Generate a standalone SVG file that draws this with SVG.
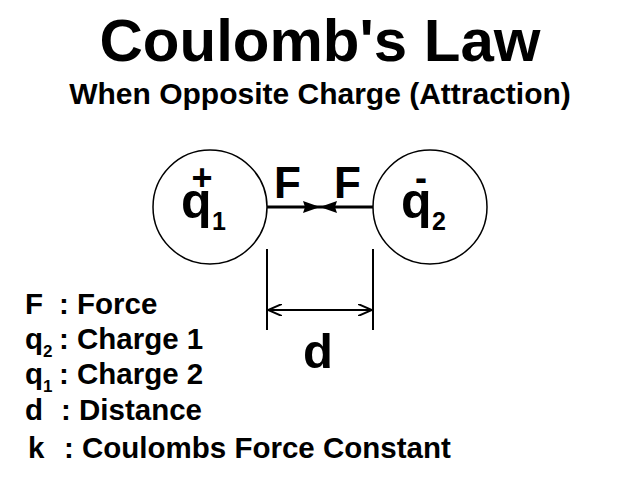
<svg xmlns="http://www.w3.org/2000/svg" width="640" height="480" viewBox="0 0 640 480">
<style>
text{font-family:"Liberation Sans",Arial,sans-serif;font-weight:bold;fill:#000}
.ttl{font-size:60px}
.sub{font-size:30px}
.lg{font-size:29.5px}
.lgs{font-size:17px}
.q{font-size:50px}
.d{font-size:49px}
.qs{font-size:25px}
.sg{font-size:36px}
.f{font-size:44px}
.ch{fill:#fff;stroke:#000;stroke-width:1.5}
.force{stroke:#000;stroke-width:3;fill:none}
.dim{stroke:#000;stroke-width:2;fill:none}
</style>
<defs>
<marker id="fa" viewBox="0 0 17 12" refX="17" refY="6" markerWidth="17" markerHeight="12" markerUnits="userSpaceOnUse" orient="auto">
<path d="M0,0 L17,6 L0,12 L2,6 Z" fill="#000"/>
</marker>
<marker id="oa" viewBox="0 0 14 12" refX="14" refY="6" markerWidth="14" markerHeight="12" markerUnits="userSpaceOnUse" orient="auto">
<path d="M0,0 L14,6 L0,12" fill="none" stroke="#000" stroke-width="2"/>
</marker>
</defs>
<g id="title">
<text class="ttl" x="320" y="61" text-anchor="middle">Coulomb's Law</text>
<text class="sub" x="320" y="104" text-anchor="middle">When Opposite Charge (Attraction)</text>
</g>
<g id="charge1">
<circle class="ch" cx="210" cy="207" r="57"/>
<text class="sg" x="202" y="190" text-anchor="middle">+</text>
<text class="q" x="181" y="218">q</text>
<text class="qs" x="212" y="230">1</text>
</g>
<g id="charge2">
<circle class="ch" cx="430" cy="207" r="57"/>
<text class="sg" x="421" y="190" text-anchor="middle">-</text>
<text class="q" x="401" y="218">q</text>
<text class="qs" x="432" y="230">2</text>
</g>
<g id="connectors">
<path class="force" d="M267,207 H320" marker-end="url(#fa)"/>
<path class="force" d="M373,207 H320" marker-end="url(#fa)"/>
<path class="dim" d="M267,249 V330 M373,249 V330"/>
<path class="dim" d="M320,310 H268" marker-end="url(#oa)"/>
<path class="dim" d="M320,310 H372" marker-end="url(#oa)"/>
</g>
<g id="labels">
<text class="f" x="274" y="198">F</text>
<text class="f" x="334" y="198">F</text>
<text class="d" x="318" y="368" text-anchor="middle">d</text>
</g>
<g id="legend">
<text class="lg" x="25" y="314">F</text>
<text class="lg" x="59" y="314">: Force</text>
<text class="lg" x="25" y="349">q</text>
<text class="lgs" x="43" y="357">2</text>
<text class="lg" x="59" y="349">: Charge 1</text>
<text class="lg" x="25" y="384">q</text>
<text class="lgs" x="43" y="392">1</text>
<text class="lg" x="59" y="384">: Charge 2</text>
<text class="lg" x="25" y="420">d</text>
<text class="lg" x="61" y="420">: Distance</text>
<text class="lg" x="28" y="458">k</text>
<text class="lg" x="64" y="458">: Coulombs Force Constant</text>
</g>
</svg>
